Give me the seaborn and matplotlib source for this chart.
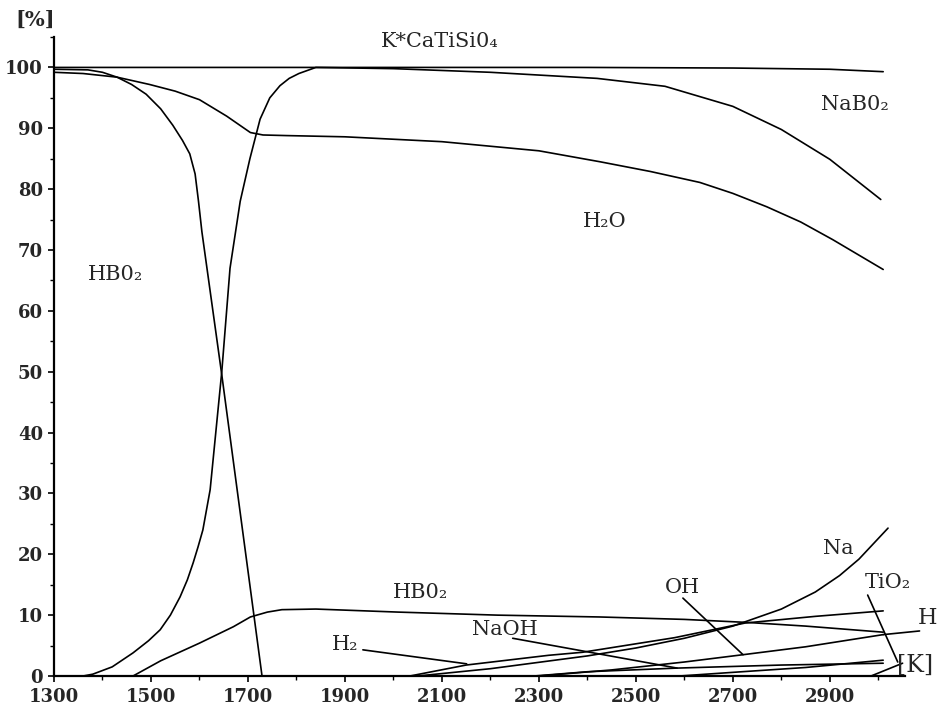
import matplotlib
matplotlib.use("Agg")
import matplotlib.pyplot as plt
import seaborn as sns
import pandas as pd
from matplotlib.ticker import MultipleLocator

sns.set_style("ticks")
plt.rcParams['font.family'] = ['DejaVu Serif', 'DejaVu Sans']

# ---- data (temperature K, percent) ----
total_T = [1300, 1600, 2000, 2400, 2700, 2900, 3010]
total_V = [100, 100, 100, 100, 99.9, 99.7, 99.3]

hbo2c_T = [1300, 1370, 1400, 1430, 1460, 1490, 1520, 1545, 1565, 1580, 1591,
           1598, 1605, 1646, 1729]
hbo2c_V = [99.7, 99.6, 99.2, 98.4, 97.2, 95.6, 93.2, 90.5, 88.0, 85.8, 82.5,
           78.0, 73.0, 49.5, 0]

nabo2_T = [1300, 1360, 1380, 1420, 1463, 1495, 1519, 1540, 1560, 1575, 1587,
           1597, 1607, 1622, 1646, 1663, 1684, 1704, 1725, 1745, 1766, 1785,
           1805, 1840, 2000, 2200, 2420, 2560, 2700, 2800, 2900, 3005]
nabo2_V = [0, 0, 0.3, 1.5, 3.8, 5.8, 7.6, 10.0, 13.0, 15.8, 18.6,
           21.2, 24.0, 30.6, 50.0, 67.0, 78.0, 85.0, 91.5, 95.0, 97.0, 98.2,
           99.0, 100, 99.8, 99.2, 98.2, 96.9, 93.6, 89.8, 84.9, 78.3]

h2o_T = [1300, 1360, 1430, 1497, 1550, 1600, 1656, 1705, 1731, 1780, 1900, 2100,
         2300, 2426, 2530, 2632, 2700, 2770, 2840, 2906, 3010]
h2o_V = [99.2, 99.0, 98.4, 97.2, 96.1, 94.7, 92.0, 89.3, 88.9, 88.8, 88.6, 87.8,
         86.3, 84.5, 82.9, 81.1, 79.3, 77.1, 74.6, 71.7, 66.8]

hbo2g_T = [1463, 1520, 1600, 1670, 1705, 1740, 1770, 1840, 2010, 2215, 2425,
           2600, 2730, 2850, 3010]
hbo2g_V = [0, 2.5, 5.4, 8.1, 9.7, 10.5, 10.9, 11.0, 10.5, 10.0, 9.7,
           9.3, 8.8, 8.2, 7.2]

na_T = [2050, 2200, 2400, 2500, 2600, 2700, 2800, 2870, 2920, 2960, 3020]
na_V = [0, 1.2, 3.3, 4.6, 6.2, 8.2, 11.0, 13.8, 16.5, 19.2, 24.3]

h2_T = [2034, 2150, 2320, 2390, 2580, 2725, 2870, 3010]
h2_V = [0, 1.8, 3.4, 3.9, 6.3, 8.7, 9.8, 10.7]

naoh_T = [2290, 2400, 2585, 2800, 3010]
naoh_V = [0, 0.7, 1.3, 1.8, 2.1]

oh_T = [2300, 2450, 2600, 2721, 2850, 3010]
oh_V = [0, 1.0, 2.3, 3.5, 4.8, 6.8]

h_T = [2590, 2700, 2850, 3010]
h_V = [0, 0.6, 1.4, 2.6]

tio2_T = [2985, 3050]
tio2_V = [0, 2.1]

series = [
    ("total", total_T, total_V), ("HBO2(c)", hbo2c_T, hbo2c_V),
    ("NaBO2", nabo2_T, nabo2_V), ("H2O", h2o_T, h2o_V),
    ("HBO2", hbo2g_T, hbo2g_V), ("Na", na_T, na_V), ("H2", h2_T, h2_V),
    ("NaOH", naoh_T, naoh_V), ("OH", oh_T, oh_V), ("H", h_T, h_V),
    ("TiO2", tio2_T, tio2_V),
]

x_ticks = [1300, 1500, 1700, 1900, 2100, 2300, 2500, 2700, 2900]
y_ticks = [0, 10, 20, 30, 40, 50, 60, 70, 80, 90, 100]

# ---- figure ----
fig = plt.figure(figsize=(9.48, 7.10), dpi=100)
ax = fig.add_axes([54 / 948, 1 - 676 / 710, 851 / 948, 639 / 710])

for name, T, V in series:
    df = pd.DataFrame({"T": T, "V": V})
    sns.lineplot(data=df, x="T", y="V", ax=ax, color="black", lw=1.2,
                 sort=False, estimator=None)

ax.set_xlim(1300, 3055)
ax.set_ylim(0, 105)
ax.set_xlabel("")
ax.set_ylabel("")
ax.set_xticks(x_ticks)
ax.set_yticks(y_ticks)
ax.xaxis.set_minor_locator(MultipleLocator(100))
ax.yaxis.set_minor_locator(MultipleLocator(5))
ax.tick_params(axis="both", which="major", length=4, width=1.2, labelsize=13,
               color="black")
ax.tick_params(axis="both", which="minor", length=3, width=1.0, color="black")
ax.tick_params(axis="x", pad=5)
ax.tick_params(axis="y", pad=4)
for lab in ax.get_xticklabels() + ax.get_yticklabels():
    lab.set_fontweight("bold")
for s in ["top", "right"]:
    ax.spines[s].set_visible(False)
for s in ["left", "bottom"]:
    ax.spines[s].set_color("black")
    ax.spines[s].set_linewidth(1.6)

fs = 15
ax.text(2096, 104.2, "K*CaTiSi0\u2084", ha="center", va="center", fontsize=fs)
ax.text(2952, 93.9, "NaB0\u2082", ha="center", va="center", fontsize=fs)
ax.text(2436, 74.7, "H\u2082O", ha="center", va="center", fontsize=fs)
ax.text(1426, 66.0, "HB0\u2082", ha="center", va="center", fontsize=fs)
ax.text(2055, 13.7, "HB0\u2082", ha="center", va="center", fontsize=fs)
ax.text(1900, 5.1, "H\u2082", ha="center", va="center", fontsize=fs)
ax.text(2230, 7.6, "NaOH", ha="center", va="center", fontsize=fs)
ax.text(2597, 14.5, "OH", ha="center", va="center", fontsize=fs)
ax.text(2917, 21.0, "Na", ha="center", va="center", fontsize=fs)
ax.text(3020, 15.3, "TiO\u2082", ha="center", va="center", fontsize=fs,
        clip_on=False)
ax.text(3102, 9.5, "H", ha="center", va="center", fontsize=16, clip_on=False)
ax.text(3075, 1.8, "[K]", ha="center", va="center", fontsize=17, clip_on=False)
ax.text(1262, 107.8, "[%]", ha="center", va="center", fontsize=15,
        fontweight="bold", clip_on=False)

lead = dict(arrowstyle="-", color="black", lw=1.2, shrinkA=0, shrinkB=0)
ax.annotate("", xy=(2151, 2.0), xytext=(1937, 4.3), arrowprops=lead)
ax.annotate("", xy=(2585, 1.3), xytext=(2246, 6.2), arrowprops=lead)
ax.annotate("", xy=(2721, 3.5), xytext=(2597, 12.8), arrowprops=lead)
ax.annotate("", xy=(3040, 2.3), xytext=(2978, 13.3), arrowprops=lead,
            annotation_clip=False)
ax.annotate("", xy=(3010, 6.8), xytext=(3085, 7.4), arrowprops=lead,
            annotation_clip=False)

fig.savefig("out.png", dpi=100)
